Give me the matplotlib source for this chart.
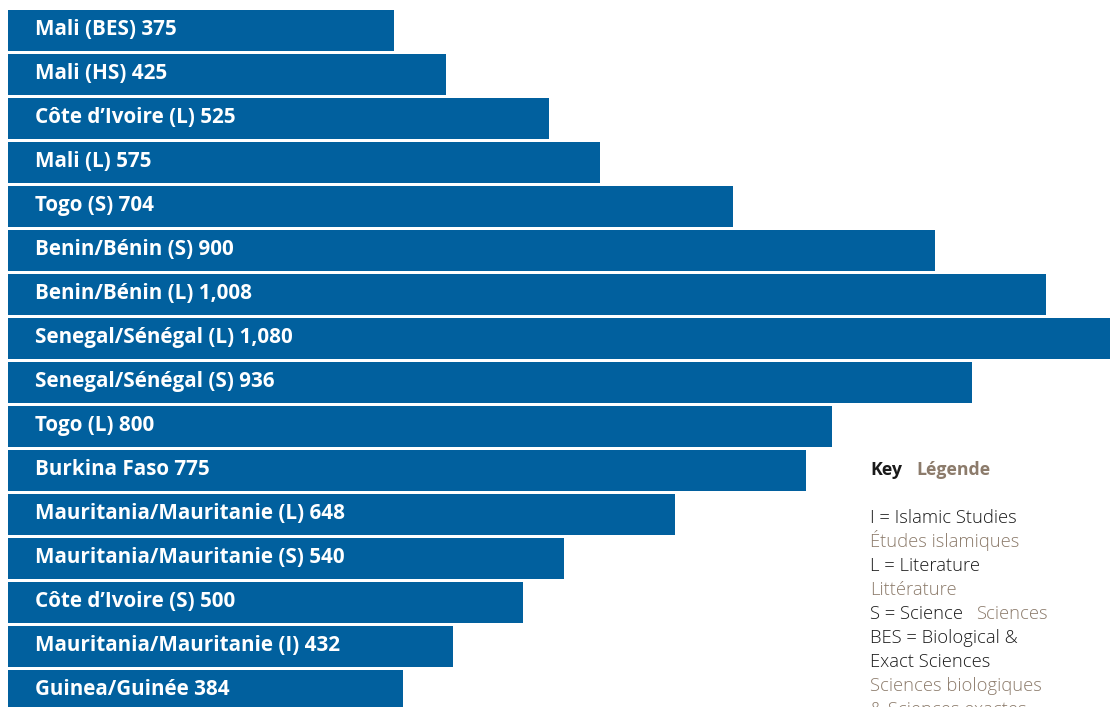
import matplotlib
matplotlib.use("Agg")
import matplotlib.pyplot as plt

# bar data, top to bottom
names = ["Mali (BES)", "Mali (HS)", "Côte d\u2019Ivoire (L)", "Mali (L)", "Togo (S)",
         "Benin/Bénin (S)", "Benin/Bénin (L)", "Senegal/Sénégal (L)",
         "Senegal/Sénégal (S)", "Togo (L)", "Burkina Faso",
         "Mauritania/Mauritanie (L)", "Mauritania/Mauritanie (S)",
         "Côte d\u2019Ivoire (S)", "Mauritania/Mauritanie (I)", "Guinea/Guinée"]
values = [375, 425, 525, 575, 704, 900, 1008, 1080, 936, 800, 775, 648, 540, 500, 432, 384]

key_lines = [
    [("I = Islamic Studies", "#1a1a1a")],
    [("Études islamiques", "#8c7b6b")],
    [("L = Literature", "#1a1a1a")],
    [("Littérature", "#8c7b6b")],
    [("S = Science", "#1a1a1a"), ("Sciences", "#8c7b6b")],
    [("BES = Biological &", "#1a1a1a")],
    [("Exact Sciences", "#1a1a1a")],
    [("Sciences biologiques", "#8c7b6b")],
    [("& Sciences exactes", "#8c7b6b")],
]

BLUE = "#01609e"
W, H = 1110, 707

fig = plt.figure(figsize=(W / 100, H / 100), dpi=100)
ax = fig.add_axes([8 / W, 0, 1 - 8 / W, 1])
ypos = list(range(len(values)))
ax.barh(ypos, values, height=41 / 44, color=BLUE, linewidth=0)
ax.set_xlim(0, 1070)
ax.set_ylim(15.375, -0.693)
ax.axis("off")

for y, n, v in zip(ypos, names, values):
    ax.annotate(f"{n} {v:,}", xy=(0, y), xytext=(19.4, -3.3),
                textcoords="offset points", ha="left", va="baseline",
                color="white", fontsize=14.9, fontweight="bold", family="Open Sans")

# key
def px(x, y):
    return x / W, 1 - y / H

fig.text(*px(870, 475), "Key", color="#1a1a1a", fontsize=12.8, fontweight="bold",
         family="Open Sans", va="baseline")
fig.text(*px(916, 475), "Légende", color="#8c7b6b", fontsize=12.8, fontweight="bold",
         family="Open Sans", va="baseline")

xs = [870, 976]
for i, parts in enumerate(key_lines):
    yb = 523 + 24 * i
    for j, (txt, col) in enumerate(parts):
        fig.text(*px(xs[j], yb), txt, color=col, fontsize=13.2, fontweight="light",
                 family="Open Sans", va="baseline")

fig.savefig("out.png", dpi=100)
